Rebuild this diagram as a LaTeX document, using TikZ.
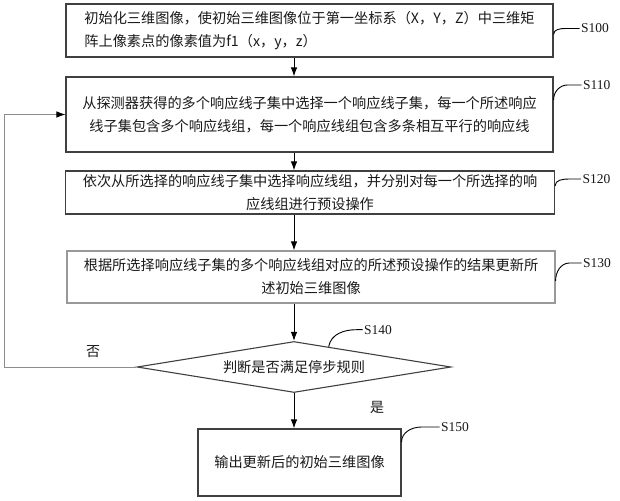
\documentclass[tikz,border=0pt]{standalone}
\usepackage{fontspec}
\setmainfont{Liberation Serif}
\newfontfamily\cjk{Noto Sans CJK SC}
\usetikzlibrary{arrows.meta,calc,shapes.geometric}
\definecolor{boxc}{gray}{0.25}
\definecolor{lightc}{gray}{0.6}
\definecolor{fbc}{gray}{0.55}
\definecolor{txtc}{gray}{0.1}
\begin{document}
\begin{tikzpicture}[x=1pt,y=-1pt,
  box/.style={draw=boxc, line width=1.1pt, inner sep=0pt, text=txtc,
    font={\cjk\fontsize{14.2}{23}\selectfont}},
  dbox/.style={box, shape=diamond, aspect=6.2},
  arr/.style={line width=1pt, draw=black, -{Latex[length=9pt,width=6.5pt]}},
  fb/.style={line width=0.8pt, draw=fbc, -{Latex[length=9pt,width=6.5pt,color=black]}},
  lead/.style={draw=black, line width=0.9pt},
  lab/.style={anchor=west, inner sep=1pt, text=txtc, font={\fontsize{13.5}{13.5}\selectfont}},
  yn/.style={text=txtc, inner sep=0pt, font={\cjk\fontsize{14}{14}\selectfont}}
]
\useasboundingbox (0,0) rectangle (620,500);

\node[box, align=left, minimum width=487pt, minimum height=53pt] (b1) at (309.5,30.5)
  {初始化三维图像，使初始三维图像位于第一坐标系（X，Y，Z）中三维矩\\阵上像素点的像素值为f1（x，y，z）};
\node[box, align=center, minimum width=487pt, minimum height=75pt] (b2) at (309.5,114.5)
  {从探测器获得的多个响应线子集中选择一个响应线子集，每一个所述响应\\线子集包含多个响应线组，每一个响应线组包含多条相互平行的响应线};
\node[box, align=center, minimum width=489pt, minimum height=43pt] (b3) at (310,192.5)
  {依次从所选择的响应线子集中选择响应线组，并分别对每一个所选择的响\\应线组进行预设操作};
\node[box, draw=lightc, align=center, minimum width=488pt, minimum height=52pt] (b4) at (311,277)
  {根据所选择响应线子集的多个响应线组对应的所述预设操作的结果更新所\\述初始三维图像};
\node[dbox, minimum width=314pt, minimum height=51pt] (dia) at (294,367) {判断是否满足停步规则};
\node[box, minimum width=203pt, minimum height=67pt] (b5) at (299.5,462.5) {输出更新后的初始三维图像};

\draw[arr] (b1.south -| dia.north) -- (b2.north -| dia.north);
\draw[arr] (b2.south -| dia.north) -- (b3.north -| dia.north);
\draw[arr] (b3.south -| dia.north) -- (b4.north -| dia.north);
\draw[arr] (b4.south -| dia.north) -- (dia.north);
\draw[arr] (dia.south) -- (b5.north -| dia.south);

\coordinate (fbc) at (4,367);
\draw[fb] (dia.west) -- (fbc) |- (b2.west);

\node[yn] (no) at (93,352) {否};
\node[yn] (yes) at (377,407) {是};

\draw[lead] ([yshift=-4pt]b1.east) to[out=90,in=180] ++(12,-6) -- ++(14,0) node[lab] (l100) {S100};
\draw[lead] ([yshift=14.5pt]b2.east) to[out=90,in=180] ++(14,-15) -- ++(14,0) node[lab] (l110) {S110};
\draw[lead] ([yshift=6.5pt]b3.east) to[out=90,in=180] ++(14,-7) -- ++(12,0) node[lab] (l120) {S120};
\draw[lead] ([yshift=-4pt]b4.east) to[out=90,in=180] ++(14,-18) -- ++(12,0) node[lab] (l130) {S130};
\draw[lead] ($(dia.north)!0.22!(dia.east)$) to[out=80,in=180] ++(28,-17) -- ++(6,0) node[lab] (l140) {S140};
\draw[lead] ([yshift=20.5pt]b5.east) to[out=90,in=180] ++(20,-15) -- ++(18,0) node[lab] (l150) {S150};
\end{tikzpicture}
\end{document}
